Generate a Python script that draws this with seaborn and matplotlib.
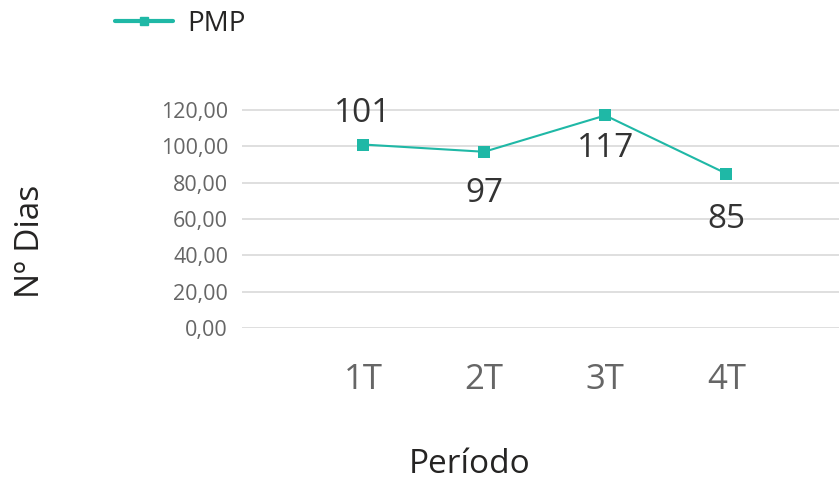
import matplotlib
matplotlib.use("Agg")
import matplotlib.pyplot as plt
import seaborn as sns
import pandas as pd

periodos = ["1T", "2T", "3T", "4T"]
pmp = [101, 97, 117, 85]
etiquetas_y = [0, 20, 40, 60, 80, 100, 120]

# decalage des etiquettes (points) : positif = au-dessus
decalages = [22, -30, -24, -33]

TEAL = "#1fb8a6"

sns.set_style("white")
plt.rcParams["font.family"] = ["Open Sans", "DejaVu Sans"]

df = pd.DataFrame({"periodo": periodos, "pmp": pmp})

fig = plt.figure(figsize=(8.39, 4.84), dpi=100)
ax = fig.add_axes([0.2884, 0.3223, 0.7116, 0.4542])

sns.lineplot(data=df, x="periodo", y="pmp", ax=ax, color=TEAL, linewidth=1.5,
             marker="s", markersize=8, markeredgewidth=0, label="PMP", legend=False)

ax.set_ylim(0, 121)
ax.set_xlim(-1, 3.93)
ax.set_yticks(etiquetas_y)
ax.set_yticklabels([f"{v:.2f}".replace(".", ",") for v in etiquetas_y],
                   fontsize=15.5, color="#666666")
ax.tick_params(axis="x", labelsize=25, colors="#666666", length=0, pad=25)
ax.tick_params(axis="y", length=0, pad=10)
ax.grid(axis="y", color="#dcdcdc", linewidth=1.3)
ax.grid(axis="x", visible=False)
for s in ax.spines.values():
    s.set_visible(False)

for i, (v, d) in enumerate(zip(pmp, decalages)):
    ax.annotate(str(v), (i, v), xytext=(0, d), textcoords="offset points",
                ha="center", va="center", fontsize=24, color="#333333",
                annotation_clip=False)

ax.set_xlabel("")
ax.set_ylabel("")
fig.text(0.036, 0.502, "Nº Dias", rotation=90, ha="center", va="center",
         fontsize=24, color="#252423")
fig.text(0.560, 0.040, "Período", ha="center", va="center",
         fontsize=24, color="#252423")

handle = plt.Line2D([], [], color=TEAL, linewidth=3, marker="s", markersize=6)
fig.legend([handle], ["PMP"], loc="center left", bbox_to_anchor=(0.107, 0.95),
           frameon=False, fontsize=20, handlelength=2.1, handletextpad=0.5,
           labelcolor="#252423")

plt.savefig("out.png", dpi=100)
